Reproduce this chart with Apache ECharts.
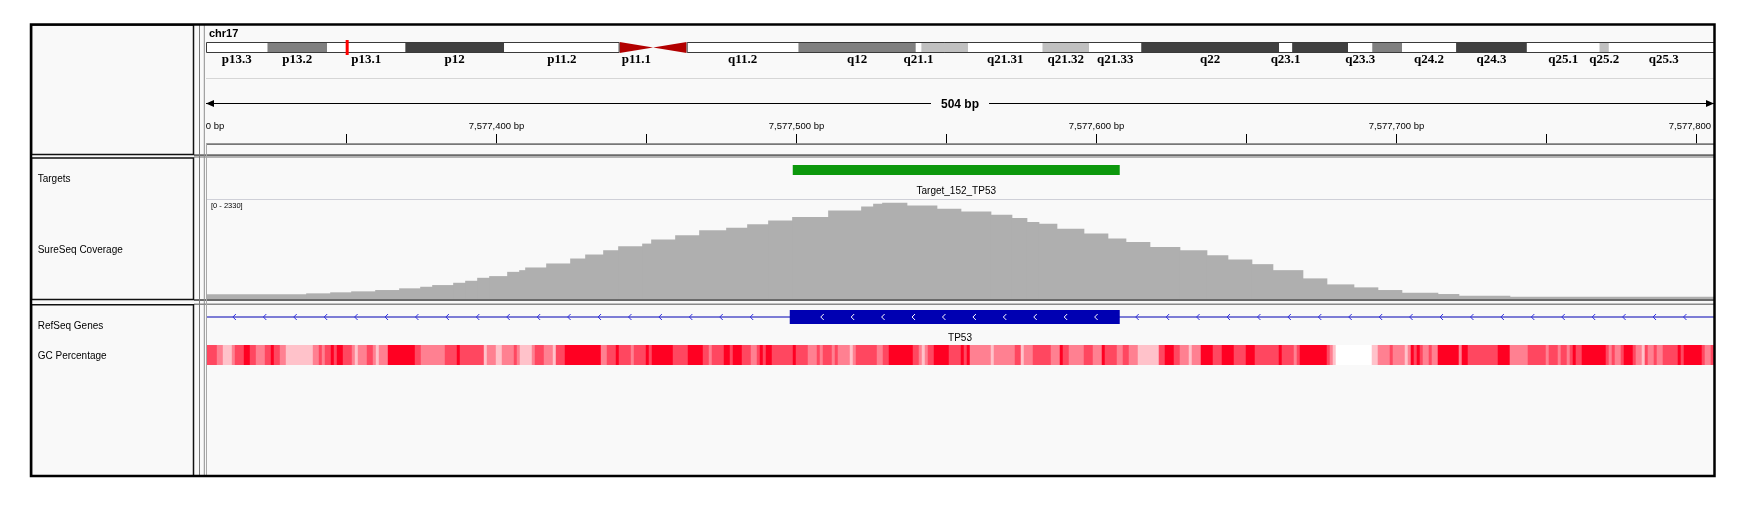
<!DOCTYPE html>
<html><head><meta charset="utf-8">
<script src="https://cdn.jsdelivr.net/npm/echarts@6/dist/echarts.min.js"></script>
<style>html,body{margin:0;padding:0;background:#fff}#c{width:1747px;height:510px}</style>
</head><body><div id="c"></div>
<script>
// ===================== DATA =====================
const chromName = 'chr17';
const chromLength = 81195210;
const bandNames  = ['p13.3','p13.2','p13.1','p12','p11.2','p11.1','q11.1','q11.2','q12','q21.1','q21.2','q21.31','q21.32','q21.33','q22','q23.1','q23.2','q23.3','q24.1','q24.2','q24.3','q25.1','q25.2','q25.3'];
const bandStarts = [0,3300000,6500000,10700000,16000000,22200000,24000000,25800000,31800000,38100000,38400000,40900000,44900000,47400000,50200000,57600000,58300000,61300000,62600000,64200000,67100000,70900000,74800000,75300000];
const bandStains = ['gneg','gpos50','gneg','gpos75','gneg','acen','acen','gneg','gpos50','gneg','gpos25','gneg','gpos25','gneg','gpos75','gneg','gpos75','gneg','gpos50','gneg','gpos75','gneg','gpos25','gneg'];
const bandLabelShown = [1,1,1,1,1,1,0,1,1,1,0,1,1,1,1,1,0,1,0,1,1,1,1,1];

const viewStart = 7577303.4;
const viewEnd   = 7577806.1;
const viewWidthLabel = '504 bp';
const rulerTicks = [7577300,7577350,7577400,7577450,7577500,7577550,7577600,7577650,7577700,7577750,7577800];
const rulerLabelTicks = [7577300,7577400,7577500,7577600,7577700,7577800];

const trackNames = ['Targets','SureSeq Coverage','RefSeq Genes','GC Percentage'];

const targetNames  = ['Target_152_TP53'];
const targetStarts = [7577499];
const targetEnds   = [7577608];

const coverageRange = [0, 2330];
const coverageBase = 7577303;
const coverageBinOffsets = [0,34,42,49,57,65,72,76,83,87,91,95,101,105,107,114,122,127,133,138,146,149,157,165,174,181,188,196,208,219,223,226,234,244,252,262,269,274,278,284,293,301,307,315,325,334,341,349,356,366,374,383,391,399,411,418,435];
const coverageValues = [110,133,157,180,211,251,288,328,382,429,499,539,639,679,742,836,953,1047,1148,1241,1304,1398,1499,1616,1679,1757,1850,1927,2084,2178,2241,2265,2201,2124,2061,1984,1904,1810,1773,1656,1539,1422,1342,1225,1148,1030,930,820,679,485,344,274,211,148,117,77,54];
const coverageLastEnd = 7577807;

const geneName = 'TP53';
const geneStart = 7571720, geneEnd = 7590868;
const exonStarts = [7577498];
const exonEnds   = [7577608];

const gcFirstBp = 7577303;
const gcRunLengths = [4,2,3,1,3,2,2,3,2,1, 2,2,9,2,1,1,2,1,1,2, 3,1,1,3,2,1,1,3,9,2, 8,4,1,8,1,3,2,4,1,1, 4,1,3,3,1,3,12,2,3,1, 4,1,4,1,1,7,5,5,2,1, 4,2,1,3,3,2,1,1,1,2, 7,1,4,3,1,1,3,1,1,4, 1,1,7,2,2,8,2,1,1,1, 2,5,4,1,1,1,7,1,7,2, 1,3,6,3,1,2,5,3,3,1, 4,2,2,3,7,2,3,2,3,1, 3,4,3,4,4,3,8,1,4,1, 1,9,1,1,1,12,2,4,1,4, 1,1,1,1,1,1,2,1,2,7, 1,2,10,4,6,6,1,3,1,2, 1,1,1,2,8,1,1,1,2,1, 3,1,2,1,1,2,1,2,5,1, 1,6,1,2,2];
const gcPercent = [66,55,42,55,66,80,66,55,66,80, 66,55,42,55,66,55,66,80,66,80, 66,55,42,55,66,55,42,55,80,66, 55,66,80,66,42,55,42,55,66,55, 42,55,66,55,42,66,80,55,66,80, 66,55,66,80,66,80,66,80,66,55, 66,80,66,80,66,55,66,80,66,80, 66,80,66,55,66,55,66,55,66,55, 42,55,66,55,66,80,66,55,42,55, 66,80,66,80,66,80,55,42,55,66, 42,55,66,55,80,66,55,66,55,80, 66,55,66,55,42,66,80,66,55,42, 55,80,66,80,66,80,66,80,66,55, 66,80,66,55,42,30,42,55,66,55, 42,55,80,66,80,66,55,66,55,80, 55,80,66,80,55,66,55,66,55,66, 55,66,80,66,80,66,55,66,55,66, 80,66,55,42,66,55,66,55,66,80, 66,80,66,55,66];
const gcColorRange = [30, 80];

// ===================== BUILD =====================
const FONT = '"Liberation Sans", Arial, sans-serif';
const stainColor = {gneg:'#ffffff', gpos25:'#c0c0c0', gpos50:'#808080', gpos75:'#404040', gpos100:'#000000', acen:'#b20000'};

const bandData = bandStarts.map((s,i)=>[s, i+1<bandStarts.length ? bandStarts[i+1] : chromLength, i]);
const acenIdx = bandStains.map((s,i)=>s==='acen'?i:-1).filter(i=>i>=0);
const armData = [[0, bandStarts[acenIdx[0]]], [bandData[acenIdx[acenIdx.length-1]][1], chromLength]];

const covData = coverageBinOffsets.map((o,i)=>[coverageBase+o, i+1<coverageBinOffsets.length ? coverageBase+coverageBinOffsets[i+1] : coverageLastEnd, coverageValues[i]]);
const gcData = []; { let p = gcFirstBp; gcRunLengths.forEach((l,i)=>{ gcData.push([p, p+l, gcPercent[i]]); p += l; }); }
const targetData = targetStarts.map((s,i)=>[s, targetEnds[i], i]);
const fmt = v => String(v).replace(/\B(?=(\d{3})+(?!\d))/g, ',');

function txt(text, x, y, font, align, valign, extra){
  return Object.assign({text, x, y, font, fill:'#000', align, verticalAlign:valign, textAlign:align, textVerticalAlign:valign}, extra||{});
}

function renderBand(params, api){
  const cs = params.coordSys;
  const i = api.value(2);
  const x0 = api.coord([api.value(0),0])[0], x1 = api.coord([api.value(1),0])[0];
  const y0 = cs.y, y1 = cs.y + cs.height, ym = (y0+y1)/2;
  const children = [];
  if (bandStains[i]==='acen'){
    const pts = bandNames[i][0]==='p' ? [[x0,y0],[x1,ym],[x0,y1]] : [[x1,y0],[x0,ym],[x1,y1]];
    children.push({type:'polygon', shape:{points:pts}, style:{fill:stainColor.acen}});
  } else {
    children.push({type:'rect', shape:{x:x0, y:y0, width:x1-x0, height:y1-y0}, style:{fill:stainColor[bandStains[i]]}});
  }
  if (bandLabelShown[i]) children.push({type:'text', style: txt(bandNames[i], (x0+x1)/2, y1+6.5, 'bold 13px "Liberation Serif", serif', 'center', 'middle')});
  return {type:'group', children};
}
function renderArm(params, api){
  const cs = params.coordSys;
  const x0 = api.coord([api.value(0),0])[0], x1 = api.coord([api.value(1),0])[0];
  return {type:'rect', shape:{x:x0+0.5, y:cs.y+0.5, width:x1-x0-1, height:cs.height-1}, style:{fill:null, stroke:'#3a3a3a', lineWidth:1}};
}
function renderMarker(params, api){
  const cs = params.coordSys;
  const x0 = api.coord([api.value(0),0])[0], x1 = api.coord([api.value(1),0])[0];
  const w = Math.max(3, x1-x0), xc = (x0+x1)/2;
  return {type:'rect', shape:{x:xc-w/2, y:cs.y-2, width:w, height:cs.height+4}, style:{fill:'#ff0000'}};
}
function renderSpan(params, api){
  const cs = params.coordSys;
  const xa = Math.max(cs.x, api.coord([api.value(0),0])[0]), xb = Math.min(cs.x+cs.width, api.coord([api.value(1),0])[0]);
  const y = cs.y + 23.5;
  return {type:'group', children:[
    {type:'line', shape:{x1:xa, y1:y, x2:xb, y2:y}, style:{stroke:'#000', lineWidth:1}},
    {type:'polygon', shape:{points:[[xa,y],[xa+8,y-3.5],[xa+8,y+3.5]]}, style:{fill:'#000'}},
    {type:'polygon', shape:{points:[[xb,y],[xb-8,y-3.5],[xb-8,y+3.5]]}, style:{fill:'#000'}},
    {type:'text', z2:10, style: txt(viewWidthLabel, (xa+xb)/2, y+1, 'bold 12px '+FONT, 'center', 'middle', {backgroundColor:'#f9f9f9', padding:[1,10]})}
  ]};
}
function renderTick(params, api){
  const cs = params.coordSys;
  const v = api.value(0);
  const x = Math.round(api.coord([v,0])[0]) + 0.5;
  const children = [{type:'line', shape:{x1:x, y1:cs.y+54, x2:x, y2:cs.y+63.5}, style:{stroke:'#000', lineWidth:1}}];
  if (api.value(1)) children.push({type:'text', style: txt(fmt(v)+' bp', x, cs.y+46, '9.5px '+FONT, 'center', 'middle')});
  return {type:'group', children};
}
function renderTarget(params, api){
  const cs = params.coordSys;
  const x0 = api.coord([api.value(0),0])[0], x1 = api.coord([api.value(1),0])[0];
  return {type:'group', children:[
    {type:'rect', shape:{x:x0, y:cs.y+5, width:x1-x0, height:10}, style:{fill:'#0c980c'}},
    {type:'text', style: txt(targetNames[api.value(2)], (x0+x1)/2, cs.y+31.7, '10px '+FONT, 'center', 'middle')}
  ]};
}
function renderCoverage(params, api){
  const p0 = api.coord([api.value(0), api.value(2)]);
  const p1 = api.coord([api.value(1), 0]);
  // small overlap to hide anti-aliasing seams between adjacent bins
  return {type:'rect', shape:{x:p0[0]-0.6, y:p0[1], width:p1[0]-p0[0]+1.2, height:p1[1]-p0[1]}, style:{fill:'#afafaf'}};
}
function renderGene(params, api){
  const cs = params.coordSys;
  const ym = cs.y + 11;
  const g0 = Math.max(cs.x, api.coord([api.value(0),0])[0]);
  const g1 = Math.min(cs.x+cs.width, api.coord([api.value(1),0])[0]);
  const e0 = api.coord([api.value(2),0])[0], e1 = api.coord([api.value(3),0])[0];
  const children = [
    {type:'line', shape:{x1:g0, y1:ym, x2:g1, y2:ym}, style:{stroke:'#0000b2', lineWidth:1}},
    {type:'rect', shape:{x:e0, y:ym-7, width:e1-e0, height:14}, style:{fill:'#0000b2'}}
  ];
  const sp = 30.43;
  const chev = (x, col) => children.push({type:'polyline', shape:{points:[[x+1.6,ym-3],[x-1.4,ym],[x+1.6,ym+3]]}, style:{stroke:col, lineWidth:1, fill:null}});
  for (let x = g0 + 28.3; x < e0 - 10; x += sp) chev(x, '#3030e0');
  for (let x = e0 + 32.4; x < e1 - 10; x += sp) chev(x, '#ffffff');
  for (let x = e1 + 17.4; x < g1 - 10; x += sp) chev(x, '#3030e0');
  children.push({type:'text', style: txt(geneName, (g0+g1)/2, cs.y+32.3, '10px '+FONT, 'center', 'middle')});
  return {type:'group', children};
}
function renderGC(params, api){
  const cs = params.coordSys;
  const x0 = api.coord([api.value(0),0])[0], x1 = api.coord([api.value(1),0])[0];
  return {type:'rect', shape:{x:x0, y:cs.y, width:x1-x0+0.5, height:cs.height}, style:{fill:api.visual('color')}};
}

const W = 1508, L = 206;
const grids = [
  {left:L, top:42,  width:1512.7, height:11},
  {left:L, top:80,  width:W, height:64},
  {left:L, top:160, width:W, height:38},
  {left:L, top:200, width:W, height:99},
  {left:L, top:306, width:W, height:36},
  {left:L, top:345, width:W, height:20}
].map(g=>Object.assign({outerBoundsMode:'none', containLabel:false, show:false}, g));
const xAxes = grids.map((g,i)=>({gridIndex:i, type:'value', show:false, min: i===0?0:viewStart, max: i===0?chromLength:viewEnd}));
const yAxes = grids.map((g,i)=>({gridIndex:i, type:'value', show:false, min: i===3?coverageRange[0]:0, max: i===3?coverageRange[1]:1}));

const sepBlock = (y, h, c) => ({type:'rect', z:100, shape:{x:194, y, width:1520, height:h}, style:{fill:c}});
const hline = (y, x1, x2, c, w) => ({type:'line', z:100, shape:{x1, y1:y, x2, y2:y}, style:{stroke:c, lineWidth:w||1}});
const vline = (x, y1, y2, c, w) => ({type:'line', z:100, shape:{x1:x, y1, x2:x, y2}, style:{stroke:c, lineWidth:w||1}});
const nameBox = (y, h) => ({type:'rect', z:101, shape:{x:31.5, y, width:162, height:h}, style:{fill:null, stroke:'#111', lineWidth:1.5}});
const nameText = (t, y) => ({type:'text', z:101, style: txt(t, 37.7, y, '10px '+FONT, 'left', 'middle')});

const graphics = [
  {type:'rect', z:-10, shape:{x:31, y:24.5, width:1683, height:451.5}, style:{fill:'#f9f9f9'}},
  hline(78.5, 206, 1714, '#d6d6d6'),
  hline(199.5, 206, 1714, '#cfd0d8'),
  {type:'rect', z:100, shape:{x:206, y:143.2, width:1508, height:1.8}, style:{fill:'#777'}},
  sepBlock(154.2, 2.2, '#6a6a6a'),
  sepBlock(156.4, 1.6, '#b4b4b4'),
  sepBlock(299, 2, '#6a6a6a'),
  sepBlock(303.4, 1.5, '#8a8a8a'),
  vline(199.5, 24.5, 476, '#7a7a7a'),
  vline(204.3, 24.5, 476, '#8e8e8e'),
  vline(206.5, 143, 476, '#a8a8a8'),
  nameBox(25, 129.5), nameBox(158, 141.5), nameBox(304.8, 171),
  nameText(trackNames[0], 179), nameText(trackNames[1], 250), nameText(trackNames[2], 326.5), nameText(trackNames[3], 356.5),
  {type:'text', z:101, style: txt(chromName, 209, 34, 'bold 11px '+FONT, 'left', 'middle')},
  {type:'text', z:101, style: txt('[' + coverageRange[0] + ' - ' + coverageRange[1] + ']', 211, 206, '7.5px '+FONT, 'left', 'middle')},
  {type:'rect', z:110, shape:{x:1715, y:0, width:40, height:510}, style:{fill:'#ffffff'}},
  {type:'rect', z:111, shape:{x:31, y:24.5, width:1683.5, height:451.5}, style:{fill:null, stroke:'#000', lineWidth:2.5}}
];

const option = {
  animation:false,
  backgroundColor:'#ffffff',
  grid: grids, xAxis: xAxes, yAxis: yAxes,
  visualMap: [{type:'continuous', show:false, seriesIndex:8, dimension:2, min:gcColorRange[0], max:gcColorRange[1], inRange:{color:['#ffffff','#ff0022']}}],
  graphic: {elements: graphics},
  series: [
    {type:'custom', name:'bands', xAxisIndex:0, yAxisIndex:0, renderItem:renderBand, data:bandData, clip:false, silent:true},
    {type:'custom', name:'arms', xAxisIndex:0, yAxisIndex:0, renderItem:renderArm, data:armData, clip:false, silent:true},
    {type:'custom', name:'view', xAxisIndex:0, yAxisIndex:0, renderItem:renderMarker, data:[[viewStart, viewEnd]], clip:false, silent:true},
    {type:'custom', name:'span', xAxisIndex:1, yAxisIndex:1, renderItem:renderSpan, data:[[viewStart, viewEnd]], clip:true, silent:true},
    {type:'custom', name:'ticks', xAxisIndex:1, yAxisIndex:1, renderItem:renderTick, data:rulerTicks.map(t=>[t, rulerLabelTicks.indexOf(t)>=0?1:0]), clip:true, silent:true},
    {type:'custom', name:'targets', xAxisIndex:2, yAxisIndex:2, renderItem:renderTarget, data:targetData, clip:true, silent:true},
    {type:'custom', name:'coverage', xAxisIndex:3, yAxisIndex:3, renderItem:renderCoverage, data:covData, clip:true, silent:true},
    {type:'custom', name:'genes', xAxisIndex:4, yAxisIndex:4, renderItem:renderGene, data:[[geneStart, geneEnd, exonStarts[0], exonEnds[0]]], clip:true, silent:true},
    {type:'custom', name:'gc', xAxisIndex:5, yAxisIndex:5, renderItem:renderGC, data:gcData, clip:true, silent:true}
  ]
};
const chart = echarts.init(document.getElementById('c'), null, {renderer:'canvas', width:1747, height:510});
chart.setOption(option);
</script>
</body></html>
